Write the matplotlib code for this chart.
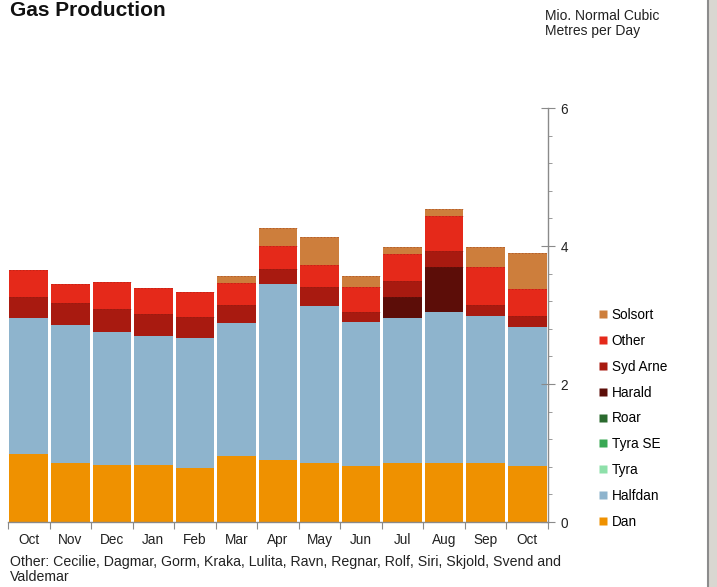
import matplotlib
matplotlib.use("Agg")
import matplotlib.pyplot as plt
from matplotlib.lines import Line2D
import numpy as np

plt.rcParams['font.family'] = ['Liberation Sans', 'DejaVu Sans']

months = ["Oct", "Nov", "Dec", "Jan", "Feb", "Mar", "Apr", "May", "Jun", "Jul", "Aug", "Sep", "Oct"]

# stacked series, bottom to top (Mio. Nm3/day)
dan      = [0.99, 0.85, 0.82, 0.82, 0.78, 0.96, 0.90, 0.85, 0.81, 0.85, 0.85, 0.85, 0.81]
halfdan  = [1.97, 2.00, 1.94, 1.87, 1.88, 1.93, 2.55, 2.28, 2.09, 2.11, 2.20, 2.13, 2.01]
tyra     = [0, 0, 0, 0, 0, 0, 0, 0, 0, 0, 0, 0, 0]
tyra_se  = [0, 0, 0, 0, 0, 0, 0, 0, 0, 0, 0, 0, 0]
roar     = [0, 0, 0, 0, 0, 0, 0, 0, 0, 0, 0, 0, 0]
harald   = [0, 0, 0, 0, 0, 0, 0, 0, 0, 0.30, 0.65, 0, 0]
syd_arne = [0.30, 0.32, 0.32, 0.32, 0.31, 0.26, 0.21, 0.27, 0.14, 0.24, 0.23, 0.16, 0.17]
other    = [0.39, 0.28, 0.40, 0.38, 0.37, 0.31, 0.34, 0.33, 0.36, 0.39, 0.50, 0.56, 0.38]
solsort  = [0, 0, 0, 0, 0, 0.11, 0.26, 0.40, 0.16, 0.10, 0.11, 0.29, 0.53]

series = [
    ("Dan", dan, "#EF9100"),
    ("Halfdan", halfdan, "#8EB4CD"),
    ("Tyra", tyra, "#8EE0AA"),
    ("Tyra SE", tyra_se, "#38A853"),
    ("Roar", roar, "#2A6A2E"),
    ("Harald", harald, "#5C0D08"),
    ("Syd Arne", syd_arne, "#A81A10"),
    ("Other", other, "#E5291A"),
    ("Solsort", solsort, "#CD7E3C"),
]

fig = plt.figure(figsize=(7.17, 5.87), dpi=100)
ax = fig.add_axes([8/717, 65/587, 540/717, 414/587])

x = np.arange(len(months))
bottom = np.zeros(len(months))
for i, (name, vals, col) in enumerate(series):
    v = np.array(vals, dtype=float)
    ax.bar(x, v, bottom=bottom, width=0.93, color=col, edgecolor='none', linewidth=0)
    # faint dashed separators at segment tops for the upper (reddish) segments
    if i >= 5:
        top = bottom + v
        for xi, vi, ti in zip(x, v, top):
            if vi > 0:
                ax.plot([xi - 0.465, xi + 0.465], [ti, ti], linestyle=(0, (2, 2)),
                        linewidth=0.6, color='#7a1a10', alpha=0.35)
    bottom += v

ax.set_xlim(-0.5, len(months) - 0.5)
ax.set_ylim(0, 6)

for s in ['left', 'top']:
    ax.spines[s].set_visible(False)
for s in ['bottom', 'right']:
    ax.spines[s].set_color('#8a8a8a')
    ax.spines[s].set_linewidth(1.0)

ax.set_xticks(np.arange(-0.5, len(months), 1.0))
ax.set_xticklabels([])
ax.set_xticks(x, minor=True)
ax.set_xticklabels(months, minor=True)
ax.tick_params(axis='x', which='major', direction='out', length=5, color='#8a8a8a')
ax.tick_params(axis='x', which='minor', length=0, labelsize=9.8, pad=8, labelcolor='#222222')

ax.yaxis.tick_right()
ax.set_yticks([0, 2, 4, 6])
ax.set_yticks(np.arange(0, 6.01, 0.4), minor=True)
ax.tick_params(axis='y', which='major', direction='inout', length=10, color='#8a8a8a',
               labelsize=9.8, pad=4, labelcolor='#222222')
ax.tick_params(axis='y', which='minor', direction='out', length=3, color='#8a8a8a')

# legend
handles = [Line2D([], [], marker='s', linestyle='none', markersize=6,
                  markerfacecolor=col, markeredgecolor='none') for _, _, col in series][::-1]
labels = [name for name, _, _ in series][::-1]
leg = fig.legend(handles, labels, loc='upper left', bbox_to_anchor=(598/717, 1 - 308/587),
                 frameon=False, fontsize=9.8, handlelength=0.8, handletextpad=0.2,
                 labelspacing=0.87, borderpad=0, borderaxespad=0)

fig.text(10/717, 1 - 16/587, "Gas Production", fontsize=15, fontweight='bold',
         va='baseline', ha='left', color='#111111')
fig.text(545/717, 1 - 20/587, "Mio. Normal Cubic", fontsize=10,
         va='baseline', ha='left', color='#222222')
fig.text(545/717, 1 - 35/587, "Metres per Day", fontsize=10,
         va='baseline', ha='left', color='#222222')
fig.text(10/717, 1 - 566/587, "Other: Cecilie, Dagmar, Gorm, Kraka, Lulita, Ravn, Regnar, Rolf, Siri, Skjold, Svend and",
         fontsize=10.2, va='baseline', ha='left', color='#222222')
fig.text(10/717, 1 - 581/587, "Valdemar", fontsize=10.2, va='baseline', ha='left', color='#222222')

# right frame of the original screenshot
fig.add_artist(plt.Rectangle((708/717, 0), 9/717, 1, transform=fig.transFigure,
                             facecolor='#D9D7D1', edgecolor='none'))
fig.add_artist(Line2D([708/717, 708/717], [0, 1], transform=fig.transFigure,
                      color='#8c8c8c', linewidth=1.5))

fig.savefig("out.png", dpi=100)
